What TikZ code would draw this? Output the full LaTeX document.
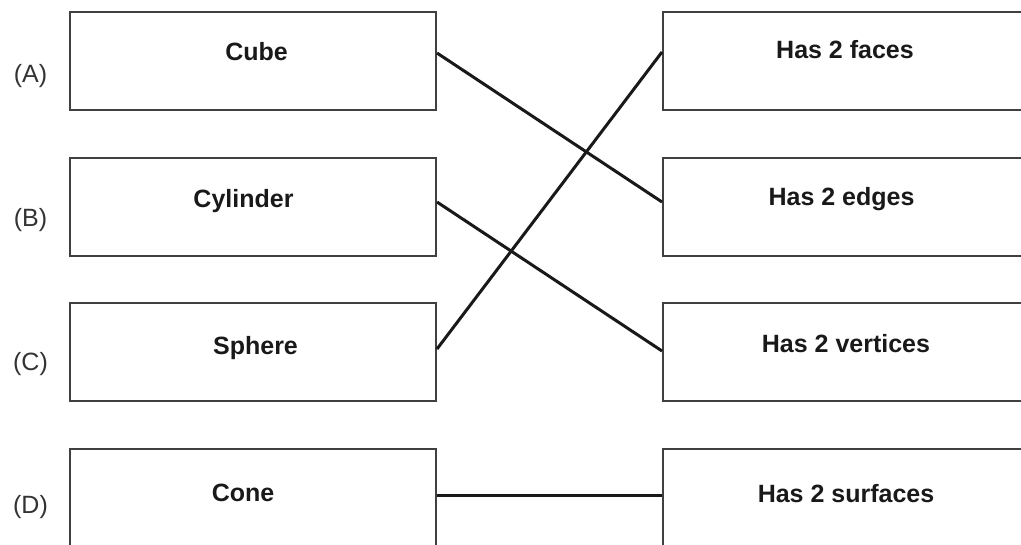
\documentclass[tikz,border=0pt]{standalone}
\usepackage{fontspec}
\setmainfont{Liberation Sans}
\begin{document}
\begin{tikzpicture}[x=1pt,y=-1pt,
  box/.style={draw=black!75,line width=2pt,minimum width=366pt,minimum height=98pt,inner sep=0pt},
  boxtext/.style={anchor=base,inner sep=0pt,font=\fontsize{25}{30}\selectfont\bfseries,text=black!90},
  tag/.style={anchor=base,inner sep=0pt,font=\fontsize{25}{30}\selectfont,text=black!80},
  conn/.style={draw=black!90,line width=3pt}]
\useasboundingbox (0,0) rectangle (1021,544);
% left boxes
\node[box] (cube) at (253,61) {};
\node[box] (cylinder) at (253,206.5) {};
\node[box] (sphere) at (253,352) {};
\node[box] (cone) at (253,498) {};
% right boxes
\node[box] (faces) at (846,61) {};
\node[box] (edges) at (846,206.5) {};
\node[box] (vertices) at (846,352) {};
\node[box] (surfaces) at (846,498) {};
% texts
\node[boxtext] (cubet) at (256.5,60) {Cube};
\node[boxtext] (cylindert) at (243.5,207) {Cylinder};
\node[boxtext] (spheret) at (255.5,354) {Sphere};
\node[boxtext] (conet) at (243,501) {Cone};
\node[boxtext] (facest) at (845,58) {Has 2 faces};
\node[boxtext] (edgest) at (841.5,205) {Has 2 edges};
\node[boxtext] (verticest) at (846,352) {Has 2 vertices};
\node[boxtext] (surfacest) at (846,502) {Has 2 surfaces};
% tags
\node[tag] (ta) at (30.5,82) {(A)};
\node[tag] (tb) at (30.5,226) {(B)};
\node[tag] (tc) at (30.5,370) {(C)};
\node[tag] (td) at (30.5,513) {(D)};
% connectors
\draw[conn] ([yshift=-42pt]cube.north east) -- ([yshift=-45.5pt]edges.north west);
\draw[conn] ([yshift=-45.5pt]cylinder.north east) -- ([yshift=-49pt]vertices.north west);
\draw[conn] ([yshift=-47pt]sphere.north east) -- ([yshift=-41pt]faces.north west);
\draw[conn] ([yshift=-47pt]cone.north east) -- ([yshift=-47pt]surfaces.north west);
\end{tikzpicture}
\end{document}
